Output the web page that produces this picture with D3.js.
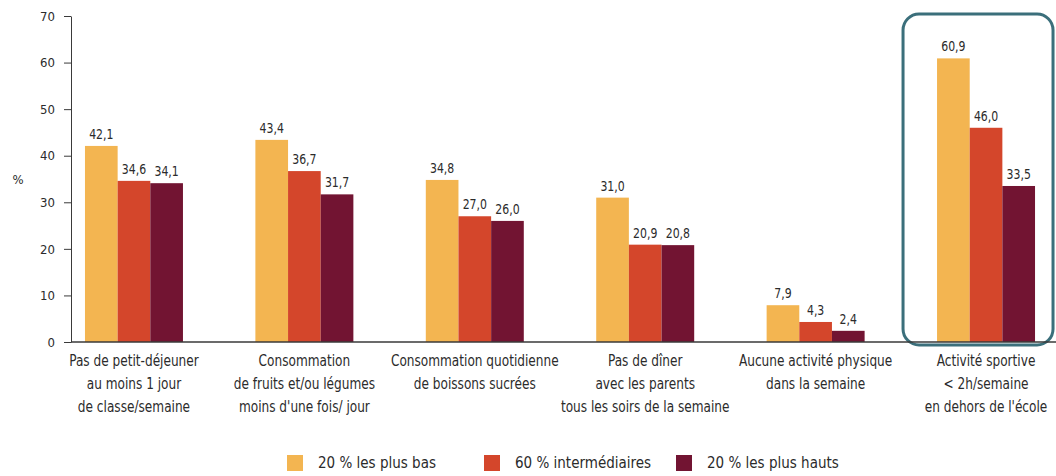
<!DOCTYPE html>
<html>
<head>
<meta charset="utf-8">
<script src="https://cdn.jsdelivr.net/npm/d3@7"></script>
<style>
  body { margin: 0; background: #fff; }
  svg text { font-family: "Liberation Sans Narrow", "DejaVu Sans Condensed", "Roboto", sans-serif; fill: #2b2b2b; }
  .axis path, .axis line { stroke: #3a3a3a; }
</style>
</head>
<body>
<div class="chart"></div>
<script>
// DATA ------------------------------------
const categories = [
  ["Pas de petit-déjeuner", "au moins 1 jour", "de classe/semaine"],
  ["Consommation", "de fruits et/ou légumes", "moins d'une fois/ jour"],
  ["Consommation quotidienne", "de boissons sucrées"],
  ["Pas de dîner", "avec les parents", "tous les soirs de la semaine"],
  ["Aucune activité physique", "dans la semaine"],
  ["Activité sportive", "< 2h/semaine", "en dehors de l'école"]
];
const seriesNames = ["20 % les plus bas", "60 % intermédiaires", "20 % les plus hauts"];
const lowValues = [42.1, 43.4, 34.8, 31.0, 7.9, 60.9];
const midValues = [34.6, 36.7, 27.0, 20.9, 4.3, 46.0];
const highValues = [34.1, 31.7, 26.0, 20.8, 2.4, 33.5];
const yTicks = [0, 10, 20, 30, 40, 50, 60, 70];
const colors = ["#f3b551", "#d4462b", "#721432"];

const seriesValues = [lowValues, midValues, highValues];
const catKeys = categories.map((c, i) => "c" + i);

// CHART INIT ------------------------------
const W = 1056, H = 476;
const svg = d3.select(".chart")
    .append("svg")
    .attr("width", W)
    .attr("height", H);

const x0 = d3.scaleBand()
    .domain(catKeys)
    .range([71, 1049])
    .paddingInner(0.425)
    .paddingOuter(0.082);
const x1 = d3.scaleBand()
    .domain(seriesNames)
    .range([0, x0.bandwidth()]);
const y = d3.scaleLinear()
    .domain([0, 70])
    .range([342, 16]);

// highlight box round the last group
const last = catKeys[catKeys.length - 1];
svg.append("rect")
    .attr("x", x0(last) - 34)
    .attr("y", y(70) - 2)
    .attr("width", x0.bandwidth() + 52)
    .attr("height", y(0) - y(70) + 5)
    .attr("rx", 16)
    .attr("fill", "none")
    .attr("stroke", "#3b6f7b")
    .attr("stroke-width", 3);

// bars
const groups = svg.selectAll("g.grp")
    .data(catKeys)
    .enter().append("g")
    .attr("class", "grp")
    .attr("transform", d => `translate(${x0(d)},0)`);

groups.each(function(k, i) {
  const g = d3.select(this);
  const rows = seriesNames.map((s, j) => ({s: s, v: seriesValues[j][i], c: colors[j]}));
  g.selectAll("rect")
    .data(rows)
    .enter().append("rect")
    .attr("x", d => x1(d.s))
    .attr("y", d => y(d.v))
    .attr("width", x1.bandwidth())
    .attr("height", d => y(0) - y(d.v))
    .attr("fill", d => d.c);
  g.selectAll("text.val")
    .data(rows)
    .enter().append("text")
    .attr("class", "val")
    .attr("transform", d => `translate(${x1(d.s) + x1.bandwidth() / 2},${y(d.v) - 7}) scale(0.9,1)`)
    .attr("text-anchor", "middle")
    .attr("font-size", "13.5px")
    .text(d => d.v.toFixed(1).replace(".", ","));
});

// y axis
const yAxis = d3.axisLeft(y)
    .tickValues(yTicks)
    .tickSize(7)
    .tickSizeOuter(0)
    .tickPadding(9)
    .tickFormat(d3.format("d"));
svg.append("g")
    .attr("class", "axis y-axis")
    .attr("transform", "translate(71,0)")
    .call(yAxis)
    .call(g => g.selectAll("text").attr("font-size", "13px").attr("fill", "#2b2b2b")
        .style("font-family", '"Liberation Sans Narrow", "DejaVu Sans Condensed", sans-serif'));

svg.append("text")
    .attr("x", 18)
    .attr("y", y(35) + 5)
    .attr("text-anchor", "middle")
    .attr("font-size", "13px")
    .text("%");

// x axis line
svg.append("line")
    .attr("x1", 71).attr("x2", W)
    .attr("y1", y(0)).attr("y2", y(0))
    .attr("stroke", "#3a3a3a")
    .attr("stroke-width", 1.5);

// category labels, squeezed to look like the condensed face
categories.forEach((lines, i) => {
  const cx = x0(catKeys[i]) + x0.bandwidth() / 2;
  const t = svg.append("text")
      .attr("transform", `translate(${cx},366) scale(0.9,1)`)
      .attr("text-anchor", "middle")
      .attr("font-size", "15px");
  lines.forEach((l, j) => {
    t.append("tspan")
      .attr("x", 0)
      .attr("dy", j === 0 ? 0 : 23)
      .text(l);
  });
});

// legend
const legendX = [287, 484, 676];
seriesNames.forEach((s, j) => {
  svg.append("rect")
    .attr("x", legendX[j]).attr("y", 455)
    .attr("width", 16).attr("height", 16)
    .attr("fill", colors[j]);
  svg.append("text")
    .attr("x", legendX[j] + 31)
    .attr("y", 468)
    .attr("font-size", "15px")
    .text(s);
});
</script>
</body>
</html>
